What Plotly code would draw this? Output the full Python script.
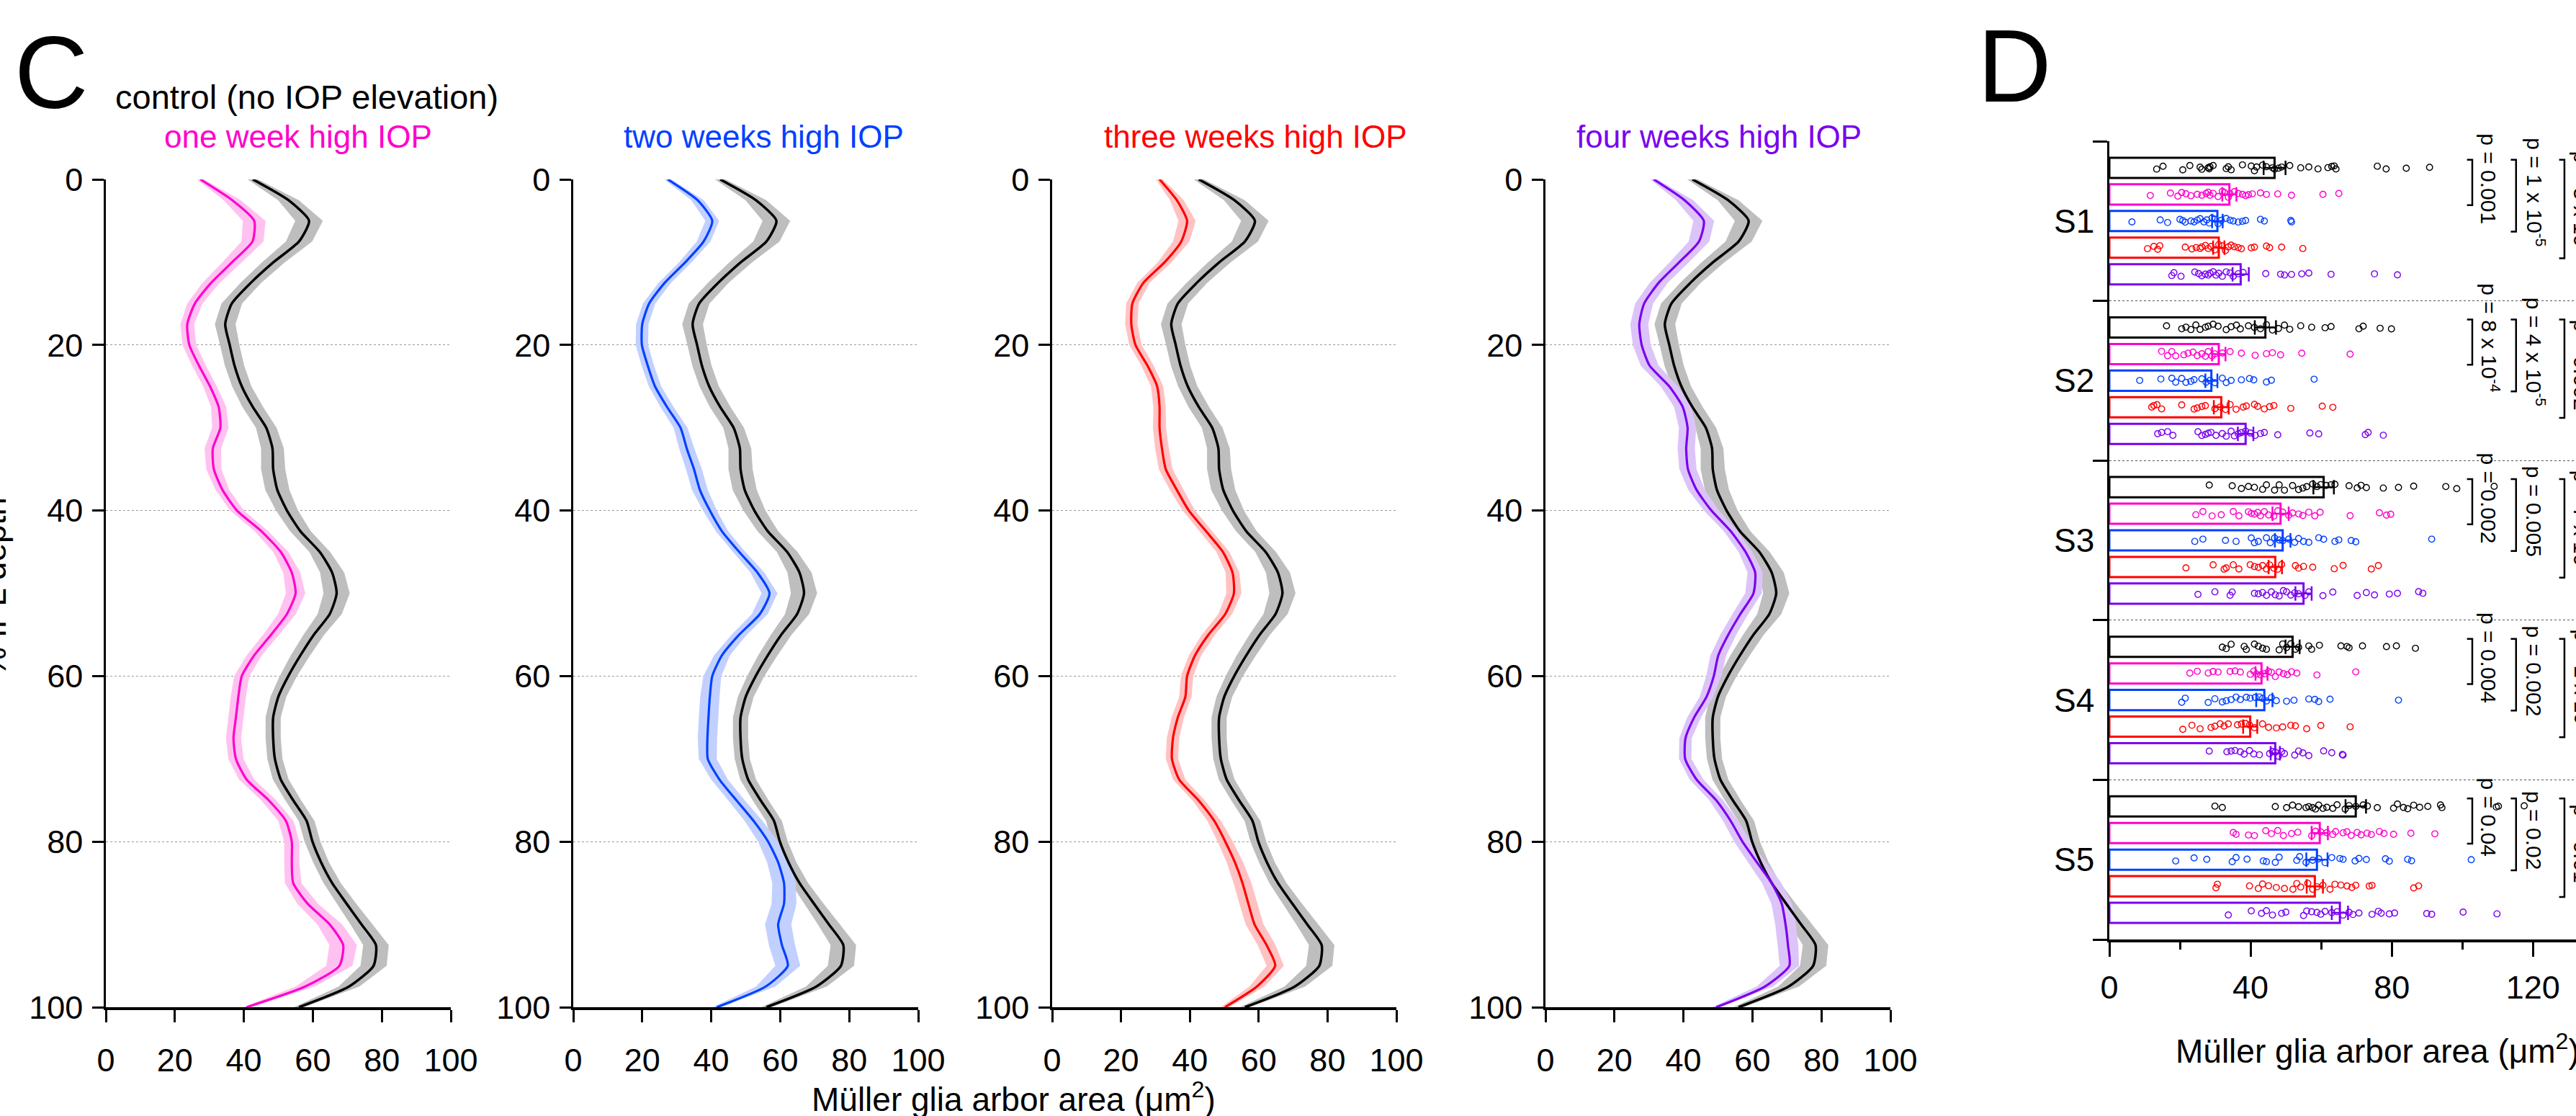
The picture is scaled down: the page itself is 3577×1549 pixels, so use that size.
import plotly.graph_objects as go

W, H = 3577, 1549
FONT = "Arial, 'Liberation Sans', Helvetica, sans-serif"

# ---------------- Panel C data: % IPL depth profiles ----------------
depth = [0, 2.5, 5, 7.5, 10, 12.5, 15, 17.5, 20, 22.5, 25, 27.5, 30, 32.5, 35, 37.5, 40,
         42.5, 45, 47.5, 50, 52.5, 55, 57.5, 60, 62.5, 65, 67.5, 70, 72.5, 75, 77.5, 80,
         82.5, 85, 87.5, 90, 92.5, 95, 97.5, 100]

control_mean = [42.6, 52.9, 58.9, 56.0, 48.6, 42.0, 36.5, 34.6, 35.9, 37.3, 39.4, 42.6, 46.5,
                48.3, 48.5, 49.7, 52.5, 56.4, 62.0, 65.6, 66.9, 64.9, 60.3, 56.4, 52.9, 50.0,
                48.5, 48.5, 49.0, 50.7, 54.3, 58.2, 59.9, 62.4, 65.6, 69.8, 74.1, 78.3, 77.6,
                70.5, 56.0]
control_sem = [1.5, 3.0, 4.0, 3.8, 3.3, 3.0, 3.0, 3.0, 2.8, 2.8, 2.8, 3.0, 3.0, 3.3, 3.5, 3.5,
               3.2, 3.0, 3.0, 3.5, 3.8, 3.5, 3.0, 2.8, 2.5, 2.3, 2.2, 2.2, 2.2, 2.3, 2.3, 2.3,
               2.3, 2.3, 2.5, 2.8, 3.2, 3.7, 3.8, 3.0, 1.5]

one_week_mean = [27.4, 36.6, 43.0, 42.5, 36.6, 30.5, 25.8, 23.6, 24.2, 27.0, 30.2, 32.7, 33.2,
                 31.0, 31.3, 33.8, 38.0, 45.1, 50.7, 53.9, 55.0, 52.5, 47.9, 43.0, 39.4, 38.4,
                 37.7, 37.0, 37.7, 40.8, 47.2, 52.2, 53.9, 53.9, 54.3, 58.5, 64.9, 68.8, 67.7,
                 57.8, 40.8]
one_week_sem = [1.0, 2.5, 3.3, 3.2, 2.8, 2.5, 2.2, 2.0, 2.0, 2.0, 2.0, 2.2, 2.4, 2.4, 2.2, 2.0,
                2.0, 2.0, 2.2, 2.5, 2.8, 2.6, 2.3, 2.2, 2.2, 2.2, 2.2, 2.2, 2.2, 2.2, 2.2, 2.2,
                2.2, 2.2, 2.4, 3.0, 3.6, 4.0, 3.8, 2.8, 1.0]

two_weeks_mean = [27.4, 36.0, 40.3, 37.8, 32.5, 26.5, 22.0, 20.0, 19.9, 21.6, 23.7, 27.2, 31.1,
                  32.9, 35.0, 36.7, 39.6, 43.1, 48.1, 53.4, 56.9, 54.1, 48.1, 43.1, 40.3, 39.6,
                  39.2, 38.9, 39.0, 42.4, 47.3, 52.3, 56.5, 59.4, 61.1, 61.1, 59.4, 60.5, 62.2,
                  55.8, 41.6]
two_weeks_sem = [1.0, 1.8, 2.0, 2.0, 1.8, 1.8, 1.8, 1.8, 1.8, 1.8, 1.8, 1.9, 2.0, 2.2, 2.3, 2.3,
                 2.0, 1.8, 1.8, 2.0, 2.3, 2.3, 2.2, 2.3, 2.6, 2.8, 2.8, 2.8, 2.6, 2.4, 2.4, 2.6,
                 2.9, 3.2, 3.4, 3.6, 3.8, 3.8, 3.6, 2.8, 1.2]

three_weeks_mean = [31.2, 36.2, 39.2, 37.5, 32.7, 26.5, 23.3, 23.0, 24.2, 27.7, 30.5, 31.2, 31.2,
                    31.9, 33.0, 36.2, 39.7, 44.7, 49.6, 52.4, 52.8, 50.3, 45.4, 41.5, 39.2, 38.7,
                    36.5, 35.1, 34.8, 36.9, 42.5, 47.1, 50.3, 53.1, 55.3, 57.0, 58.8, 62.3, 64.8,
                    59.5, 50.2]
three_weeks_sem = [1.0, 2.0, 2.5, 2.4, 2.0, 1.8, 1.8, 1.8, 1.8, 1.8, 1.8, 1.8, 1.9, 2.0, 2.0, 2.0,
                   1.8, 1.8, 1.9, 2.0, 2.2, 2.0, 1.9, 1.8, 1.8, 1.8, 1.8, 1.8, 1.8, 1.8, 1.8, 2.0,
                   2.2, 2.4, 2.6, 2.6, 2.6, 2.6, 2.5, 2.2, 1.2]

four_weeks_mean = [31.4, 40.3, 45.9, 44.5, 38.8, 32.8, 28.6, 27.2, 27.9, 30.2, 35.9, 39.8, 41.2,
                   40.8, 41.3, 43.8, 48.1, 53.7, 58.0, 60.8, 60.3, 56.5, 53.0, 50.1, 48.8, 46.7,
                   43.1, 40.6, 40.5, 43.8, 49.5, 53.7, 57.1, 61.3, 65.6, 68.5, 69.6, 70.3, 70.7,
                   63.6, 49.5]
four_weeks_sem = [1.0, 2.5, 3.0, 3.0, 2.8, 2.6, 2.6, 2.6, 2.6, 2.6, 2.5, 2.5, 2.5, 2.5, 2.5, 2.4,
                  2.2, 2.0, 2.0, 2.2, 2.4, 2.3, 2.3, 2.3, 2.2, 2.0, 2.0, 1.8, 1.8, 2.0, 2.0, 2.2,
                  2.4, 2.6, 2.8, 3.0, 3.0, 3.0, 2.8, 2.4, 1.2]

condition_names = ["one week high IOP", "two weeks high IOP", "three weeks high IOP", "four weeks high IOP"]
depth_ticks = [0, 20, 40, 60, 80, 100]
area_ticks_c = [0, 20, 40, 60, 80, 100]

# ---------------- Panel D data: sublamina S1-S5 ----------------
sublaminae = ["S1", "S2", "S3", "S4", "S5"]
group_names = ["control", "one week", "two weeks", "three weeks", "four weeks"]

control_bar = [46.8, 44.2, 60.7, 51.9, 69.8]
one_week_bar = [34.0, 31.0, 48.5, 43.1, 59.6]
two_weeks_bar = [30.6, 28.9, 49.1, 43.9, 58.8]
three_weeks_bar = [31.0, 31.7, 47.0, 39.9, 58.2]
four_weeks_bar = [37.2, 38.6, 55.0, 47.0, 65.3]

control_bar_sem = [3.1, 3.0, 2.9, 2.0, 2.9]
one_week_bar_sem = [2.0, 1.9, 2.3, 1.7, 2.3]
two_weeks_bar_sem = [1.5, 1.7, 2.2, 2.3, 3.0]
three_weeks_bar_sem = [1.6, 2.1, 1.9, 2.0, 2.3]
four_weeks_bar_sem = [2.3, 2.2, 2.3, 1.3, 2.3]

control_pts = [
    [13.4, 15.2, 20.8, 22.8, 25.7, 26.2, 28.0, 28.3, 28.5, 29.4, 33.1, 33.7, 34.5, 37.7, 40.2, 41.1, 41.7, 43.4,
     44.5, 46.2, 46.8, 47.9, 48.8, 51.1, 54.2, 56.5, 59.1, 61.9, 63.0, 63.7, 64.2, 75.9, 78.4, 84.1, 90.7],
    [16.2, 20.5, 21.7, 23.1, 24.5, 25.7, 27.2, 28.0, 29.4, 30.8, 33.1, 34.5, 36.0, 37.1, 39.4, 41.1, 42.8, 44.5,
     46.2, 47.9, 49.6, 51.1, 54.2, 57.3, 61.1, 62.8, 70.7, 71.9, 76.7, 79.9],
    [28.3, 34.8, 37.4, 39.4, 41.1, 43.4, 44.5, 46.8, 48.1, 49.6, 51.9, 53.6, 54.8, 55.9, 57.6, 58.8, 59.9, 61.4,
     62.8, 63.9, 67.9, 70.2, 71.3, 72.8, 77.6, 81.9, 86.2, 95.3, 98.4, 109.0],
    [32.0, 33.1, 34.5, 38.2, 38.8, 41.1, 42.2, 43.4, 44.5, 48.1, 49.1, 50.2, 51.4, 52.7, 53.6, 56.5, 57.3, 59.5,
     65.6, 67.3, 67.9, 71.7, 78.5, 81.3, 86.7],
    [29.9, 32.0, 47.0, 50.2, 51.9, 53.6, 55.7, 56.5, 57.6, 58.4, 59.3, 60.5, 61.6, 63.3, 64.5, 66.8, 67.9, 69.8,
     71.9, 73.1, 75.9, 80.5, 81.6, 83.3, 84.5, 86.2, 87.9, 90.2, 93.8, 94.2, 109.6, 110.2, 117.5],
]
one_week_pts = [
    [11.6, 17.3, 19.4, 20.5, 21.7, 23.1, 24.9, 26.2, 27.4, 28.0, 28.5, 29.4, 30.8, 32.0, 32.6, 33.7, 34.2, 35.4,
     36.5, 37.7, 38.6, 39.4, 40.5, 42.8, 44.5, 47.7, 51.6, 60.5, 65.0],
    [14.8, 16.5, 17.7, 18.8, 21.1, 22.3, 23.7, 24.9, 26.2, 27.2, 28.0, 29.1, 29.9, 32.0, 34.2, 37.4, 41.3, 44.5,
     46.2, 48.5, 54.5, 68.2],
    [24.5, 26.5, 29.1, 31.7, 35.1, 36.7, 39.4, 40.2, 41.1, 42.0, 42.8, 43.9, 45.1, 46.6, 47.7, 49.1, 50.8, 51.9,
     53.6, 54.8, 56.5, 58.2, 59.7, 68.2, 76.5, 78.5, 79.7],
    [22.8, 24.9, 28.0, 29.4, 30.8, 34.2, 35.6, 37.1, 39.9, 40.9, 41.7, 42.8, 43.9, 45.1, 45.9, 47.0, 48.1, 49.3,
     50.4, 51.6, 53.1, 58.8, 69.8],
    [35.1, 35.9, 39.4, 41.1, 44.3, 45.9, 47.7, 49.3, 51.6, 53.4, 57.3, 58.4, 59.9, 61.6, 63.3, 64.1, 66.2, 67.3,
     68.5, 70.2, 71.3, 73.0, 74.2, 76.5, 77.8, 80.5, 85.4, 92.2],
]
two_weeks_pts = [
    [6.4, 14.4, 16.5, 20.0, 20.8, 21.5, 23.1, 24.0, 24.9, 25.7, 26.8, 27.6, 28.3, 29.1, 29.9, 30.8, 31.7, 33.1,
     34.2, 35.1, 36.5, 37.7, 38.6, 42.8, 43.9, 51.4, 51.6],
    [8.6, 14.6, 17.7, 18.8, 20.5, 21.7, 23.1, 24.0, 26.2, 27.4, 28.5, 29.9, 32.0, 33.1, 34.5, 37.4, 39.7, 40.9,
     44.5, 45.9, 58.0],
    [24.2, 26.5, 32.9, 35.9, 40.2, 41.1, 42.2, 44.5, 45.6, 46.8, 48.1, 49.1, 50.8, 52.5, 53.6, 55.0, 56.5, 59.3,
     60.7, 63.9, 65.0, 68.5, 69.8, 91.3],
    [20.5, 21.5, 28.0, 29.9, 32.0, 33.1, 34.5, 35.9, 37.1, 38.8, 39.9, 41.3, 42.5, 43.4, 44.5, 45.9, 47.3, 50.2,
     52.3, 56.5, 58.2, 59.3, 62.5, 81.9],
    [18.8, 24.0, 27.6, 34.8, 35.9, 39.0, 43.6, 44.5, 47.0, 48.1, 53.1, 53.9, 55.7, 57.6, 59.3, 61.1, 63.0, 65.3,
     66.2, 69.6, 70.7, 72.8, 78.2, 79.3, 84.5, 85.6, 102.5],
]
three_weeks_pts = [
    [10.8, 12.6, 13.7, 14.3, 21.5, 23.4, 24.6, 25.7, 26.2, 27.2, 28.0, 28.8, 29.9, 31.0, 32.0, 32.9, 33.7, 34.5,
     35.4, 36.5, 37.4, 40.2, 41.1, 44.5, 45.4, 48.8, 54.8],
    [12.0, 12.6, 13.5, 14.8, 20.5, 24.0, 24.9, 26.2, 27.2, 29.9, 31.4, 32.9, 34.2, 35.9, 37.9, 38.8, 41.1, 42.0,
     43.9, 45.4, 46.6, 51.4, 60.3, 63.3],
    [21.7, 29.4, 32.5, 33.1, 35.1, 36.7, 39.9, 41.1, 42.2, 43.4, 44.5, 45.4, 46.6, 47.7, 48.8, 52.7, 53.6, 55.0,
     57.6, 63.7, 66.2, 74.2, 76.2],
    [20.8, 23.4, 25.7, 28.8, 29.9, 31.4, 32.5, 33.7, 36.3, 37.4, 38.6, 39.7, 41.1, 43.4, 45.1, 47.3, 49.1, 51.4,
     52.7, 55.9, 59.9, 68.2],
    [30.2, 30.6, 39.7, 42.2, 43.4, 45.1, 47.3, 49.6, 52.0, 53.1, 54.2, 56.2, 57.6, 58.8, 60.5, 62.5, 63.9, 65.6,
     67.3, 68.7, 69.8, 73.6, 74.4, 86.2, 87.6],
]
four_weeks_pts = [
    [17.7, 18.3, 20.3, 24.2, 25.3, 26.2, 27.2, 28.0, 28.5, 29.4, 30.2, 31.0, 32.0, 33.1, 34.2, 35.1, 36.5, 37.9,
     44.3, 48.5, 49.6, 51.6, 54.5, 56.5, 62.8, 75.1, 81.6],
    [13.7, 14.8, 16.5, 18.0, 25.1, 26.2, 27.2, 28.0, 28.8, 30.2, 32.0, 33.1, 34.5, 35.4, 36.5, 37.4, 38.6, 39.9,
     41.3, 42.8, 43.9, 47.7, 56.8, 59.3, 72.5, 73.3, 77.6],
    [25.1, 29.9, 34.2, 34.8, 41.1, 42.2, 43.4, 44.5, 45.9, 47.0, 48.1, 49.3, 50.2, 51.4, 52.5, 53.6, 55.4, 56.5,
     60.5, 63.3, 70.2, 72.8, 75.1, 79.3, 81.6, 87.6, 88.8],
    [28.3, 33.3, 34.5, 35.6, 37.1, 38.2, 39.7, 40.9, 42.5, 45.4, 46.2, 47.0, 47.9, 48.8, 49.6, 52.5, 53.6, 54.8,
     56.5, 60.7, 63.0, 66.0, 66.2],
    [33.7, 40.2, 43.1, 44.5, 46.2, 48.8, 50.0, 55.0, 55.9, 57.3, 58.8, 59.9, 61.1, 63.0, 64.5, 66.2, 67.9, 69.0,
     70.7, 74.4, 76.2, 77.0, 79.3, 80.8, 89.9, 91.3, 100.2, 109.8],
]

p_vs_one_week = ["p = 0.001", "p = 8 x 10<sup>-4</sup>", "p = 0.002", "p = 0.004", "p = 0.04"]
p_vs_two_weeks = ["p = 1 x 10<sup>-5</sup>", "p = 4 x 10<sup>-5</sup>", "p = 0.005", "p = 0.002", "p = 0.02"]
p_vs_three_weeks = ["p = 3 x 10<sup>-7</sup>", "p = 0.002", "p = 7 x 10<sup>-5</sup>", "p = 2 x 10<sup>-4</sup>", "p = 0.01"]
area_ticks_d = [0, 40, 80, 120]

# ---------------- styles ----------------
LINE_COLORS = ["#FF00CC", "#0040FF", "#FF0000", "#7A00F0"]
BAND_COLORS = ["#FFC2F0", "#C2D0FF", "#FFC2C2", "#DCC4F8"]
CTRL_LINE, CTRL_BAND = "#000000", "#BEBEBE"
BAR_COLORS = ["#000000"] + LINE_COLORS

test_means = [one_week_mean, two_weeks_mean, three_weeks_mean, four_weeks_mean]
test_sems = [one_week_sem, two_weeks_sem, three_weeks_sem, four_weeks_sem]

panel_px = [(147, 626), (796, 1275), (1461, 1939), (2146, 2625)]
C_TOP, C_BOT = 249, 1398
subtitle_x = [414, 1060, 1743, 2387]
TICK_SIZE = 45
TEXT_SIZE = 46


def band(mean, sem):
    lo = [m - s for m, s in zip(mean, sem)]
    hi = [m + s for m, s in zip(mean, sem)]
    return lo + hi[::-1], depth + depth[::-1]


fig = go.Figure()
layout = {}
annotations = []
shapes = []

for i in range(4):
    xa = "x" if i == 0 else f"x{i + 1}"
    ya = "y" if i == 0 else f"y{i + 1}"
    bx, by = band(control_mean, control_sem)
    fig.add_trace(go.Scatter(x=bx, y=by, fill="toself", fillcolor=CTRL_BAND, mode="lines",
                             line=dict(width=0, color=CTRL_BAND), xaxis=xa, yaxis=ya,
                             hoverinfo="skip", showlegend=False))
    tx, ty = band(test_means[i], test_sems[i])
    fig.add_trace(go.Scatter(x=tx, y=ty, fill="toself", fillcolor=BAND_COLORS[i], mode="lines",
                             line=dict(width=0, color=BAND_COLORS[i]), xaxis=xa, yaxis=ya,
                             hoverinfo="skip", showlegend=False))
    fig.add_trace(go.Scatter(x=control_mean, y=depth, mode="lines",
                             line=dict(color=CTRL_LINE, width=3.5, shape="spline", smoothing=0.6),
                             xaxis=xa, yaxis=ya, showlegend=False))
    fig.add_trace(go.Scatter(x=test_means[i], y=depth, mode="lines",
                             line=dict(color=LINE_COLORS[i], width=3.2, shape="spline", smoothing=0.6),
                             xaxis=xa, yaxis=ya, showlegend=False))

    x0, x1 = panel_px[i]
    key_x = "xaxis" if i == 0 else f"xaxis{i + 1}"
    key_y = "yaxis" if i == 0 else f"yaxis{i + 1}"
    layout[key_x] = dict(domain=[x0 / W, x1 / W], anchor=ya, range=[0, 100], tickvals=area_ticks_c,
                         ticks="outside", ticklen=17, tickwidth=2.5, tickcolor="black",
                         showline=True, linecolor="black", linewidth=4, showgrid=False,
                         zeroline=False, ticklabelstandoff=14, automargin=False,
                         tickfont=dict(size=TICK_SIZE, family=FONT, color="black"))
    layout[key_y] = dict(domain=[1 - C_BOT / H, 1 - C_TOP / H], anchor=xa, range=[100, 0],
                         tickvals=depth_ticks, ticks="outside", ticklen=16, tickwidth=2.5,
                         tickcolor="black", showline=True, linecolor="black", linewidth=2.5,
                         showgrid=True, gridcolor="#9a9a9a", griddash="dot", gridwidth=1.2,
                         zeroline=False, ticklabelstandoff=4, automargin=False,
                         tickfont=dict(size=TICK_SIZE, family=FONT, color="black"))
    annotations.append(dict(text=condition_names[i], x=subtitle_x[i] / W, y=1 - 190 / H,
                            xref="paper", yref="paper", showarrow=False, xanchor="center",
                            yanchor="middle", font=dict(size=44, family=FONT, color=LINE_COLORS[i])))

# ---------------- Panel D ----------------
D_X0, D_TOP, D_BOT = 2929, 196, 1304
PX_PER_UNIT = 196.1 / 40
d_xmax = (W - D_X0) / PX_PER_UNIT
bar_means = [control_bar, one_week_bar, two_weeks_bar, three_weeks_bar, four_weeks_bar]
bar_sems = [control_bar_sem, one_week_bar_sem, two_weeks_bar_sem, three_weeks_bar_sem, four_weeks_bar_sem]
all_pts = [control_pts, one_week_pts, two_weeks_pts, three_weeks_pts, four_weeks_pts]

for b in range(5):
    pos = [g * 6 + b + 1 for g in range(5)]
    col = BAR_COLORS[b]
    fig.add_trace(go.Bar(orientation="h", x=bar_means[b], y=pos, width=0.76,
                         marker=dict(color="rgba(255,255,255,0)", line=dict(color=col, width=3)),
                         error_x=dict(type="data", array=bar_sems[b], color=col, thickness=2.5, width=10),
                         xaxis="x5", yaxis="y5", showlegend=False))
for b in range(5):
    col = BAR_COLORS[b]
    xs, ys = [], []
    for g in range(5):
        xs += all_pts[b][g]
        ys += [g * 6 + b + 1] * len(all_pts[b][g])
    fig.add_trace(go.Box(x=xs, y=ys, orientation="h", boxpoints="all", jitter=0.45, pointpos=0,
                         width=0.55, fillcolor="rgba(0,0,0,0)", line=dict(width=0, color=col),
                         marker=dict(symbol="circle-open", size=8.5, color=col, line=dict(width=1.4)),
                         xaxis="x5", yaxis="y5", showlegend=False, hoverinfo="x"))

layout["xaxis5"] = dict(domain=[D_X0 / W, 1], anchor="y5", range=[0, d_xmax], tickvals=area_ticks_d,
                        ticks="outside", ticklen=20, tickwidth=3, tickcolor="black",
                        minor=dict(tickvals=[20, 60, 100], ticks="outside", ticklen=10, tickwidth=3,
                                   tickcolor="black", showgrid=False),
                        showline=True, linecolor="black", linewidth=3.5, showgrid=False, zeroline=False,
                        ticklabelstandoff=4, automargin=False,
                        tickfont=dict(size=TICK_SIZE, family=FONT, color="black"))
layout["yaxis5"] = dict(domain=[1 - D_BOT / H, 1 - D_TOP / H], anchor="x5", range=[30, 0],
                        tickvals=[0, 6, 12, 18, 24, 30], showticklabels=False, ticks="outside",
                        ticklen=20, tickwidth=3, tickcolor="black", showline=True, linecolor="black",
                        linewidth=3, showgrid=True, gridcolor="#555555", griddash="dot", gridwidth=1,
                        zeroline=False, automargin=False)

for g, lab in enumerate(sublaminae):
    annotations.append(dict(text=lab, x=2910 / W, y=g * 6 + 3, xref="paper", yref="y5", showarrow=False,
                            xanchor="right", yanchor="middle", font=dict(size=TEXT_SIZE, family=FONT, color="black")))

bracket_cols = [(102.8, 3437, p_vs_one_week), (115.2, 3500, p_vs_two_weeks), (128.9, 3566, p_vs_three_weeks)]
for k, (bx_, tx_, plist) in enumerate(bracket_cols, start=1):
    for g in range(5):
        y0 = g * 6 + 0.7
        y1 = g * 6 + k + 1.4
        shapes.append(dict(type="path", xref="x5", yref="y5",
                           path=f"M {bx_ - 1.5},{y0} L {bx_},{y0} L {bx_},{y1} L {bx_ - 1.5},{y1}",
                           line=dict(color="black", width=2.5)))
        annotations.append(dict(text=plist[g], x=tx_ / W, y=(y0 + y1) / 2 - 0.15, xref="paper", yref="y5",
                                showarrow=False, textangle=90, xanchor="left", yanchor="middle",
                                font=dict(size=30, family=FONT, color="black")))

# ---------------- titles and panel letters ----------------
annotations += [
    dict(text="C", x=18 / W, y=1 - 100 / H, xanchor="left", yanchor="middle",
         font=dict(size=142, family=FONT, color="black")),
    dict(text="control (no IOP elevation)", x=158 / W, y=1 - 134 / H, xanchor="left", yanchor="middle",
         font=dict(size=47, family=FONT, color="black")),
    dict(text="D", x=2744 / W, y=1 - 92 / H, xanchor="left", yanchor="middle",
         font=dict(size=142, family=FONT, color="black")),
    dict(text="% IPL depth", x=-8 / W, y=1 - 815 / H, textangle=-90, xanchor="center", yanchor="middle",
         font=dict(size=TEXT_SIZE, family=FONT, color="black")),
    dict(text="Müller glia arbor area (μm<sup>2</sup>)", x=1407 / W, y=1 - 1523 / H, xanchor="center",
         yanchor="middle", font=dict(size=TEXT_SIZE, family=FONT, color="black")),
    dict(text="Müller glia arbor area (μm<sup>2</sup>)", x=3019 / W, y=1 - 1456 / H, xanchor="left",
         yanchor="middle", font=dict(size=TEXT_SIZE, family=FONT, color="black")),
]
for a in annotations:
    a.setdefault("xref", "paper")
    a.setdefault("yref", "paper")
    a["showarrow"] = False

fig.update_layout(template="none", width=W, height=H, margin=dict(l=0, r=0, t=0, b=0, pad=0),
                  paper_bgcolor="white", plot_bgcolor="white", showlegend=False, barmode="overlay",
                  boxmode="overlay", annotations=annotations, shapes=shapes,
                  font=dict(family=FONT, color="black"), **layout)

fig.write_html("out.html", config={"displayModeBar": False},
               post_script="document.body.style.margin='0px';document.body.style.overflow='hidden';")
